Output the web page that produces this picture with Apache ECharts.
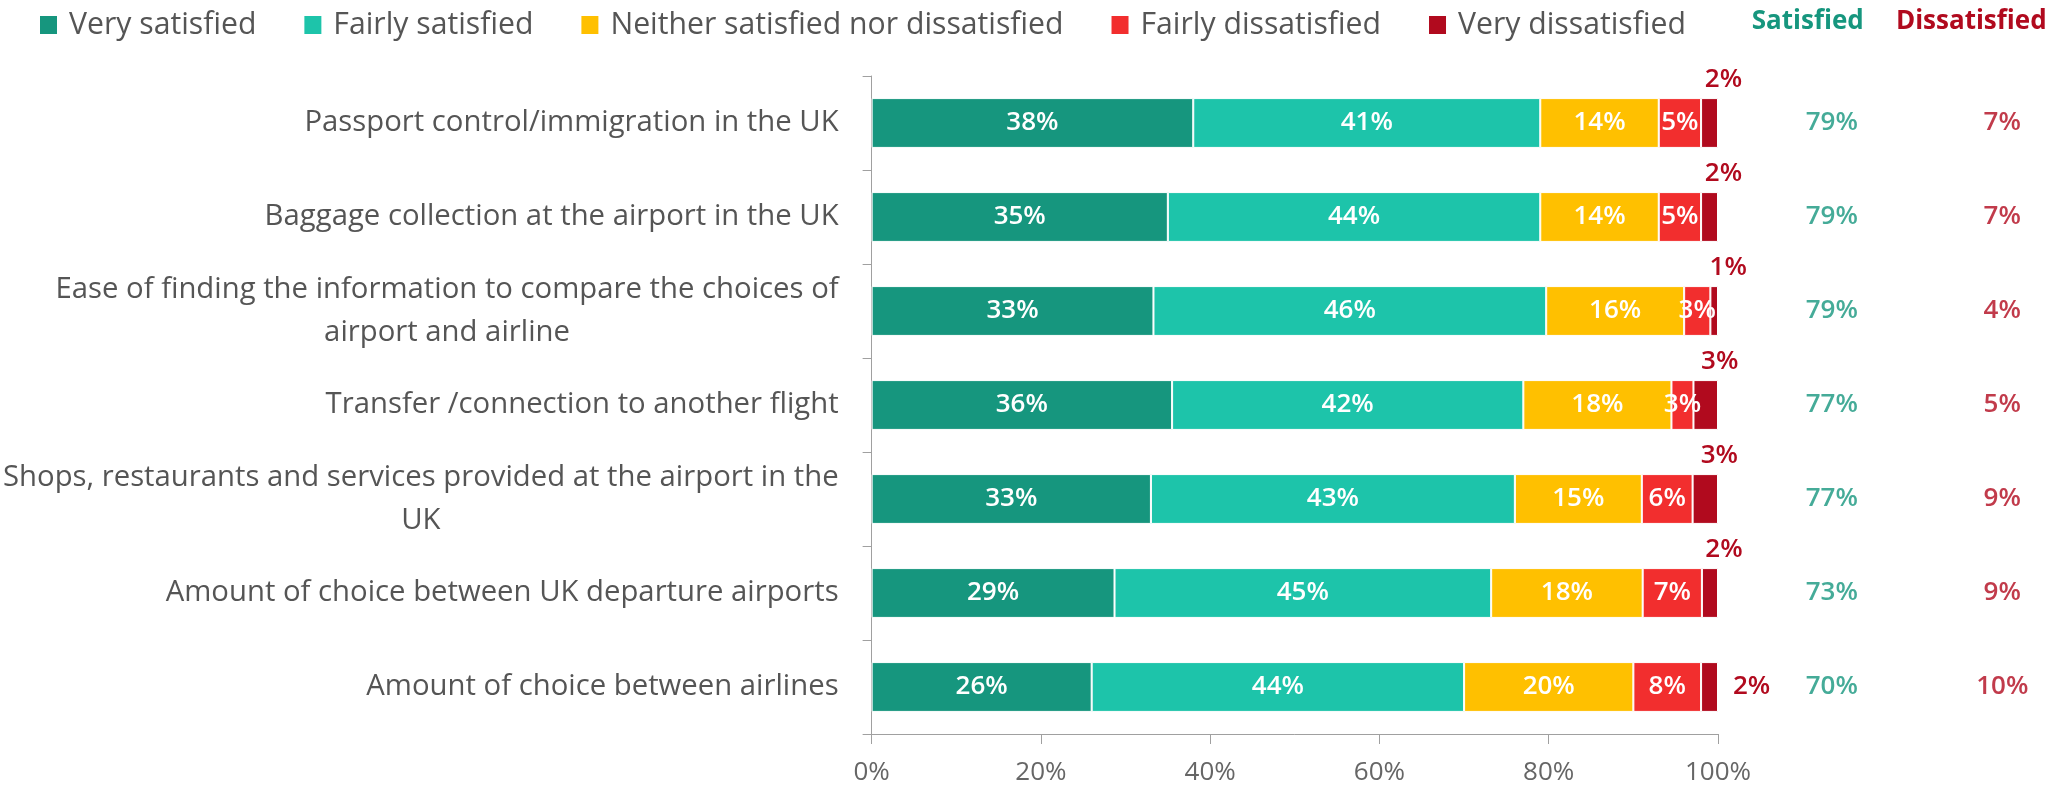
<!DOCTYPE html>
<html><head><meta charset="utf-8">
<script src="https://cdn.jsdelivr.net/npm/echarts@6/dist/echarts.min.js"></script>
<style>html,body{margin:0;padding:0;background:#fff}#c{width:2053px;height:787px}</style>
</head><body><div id="c"></div>
<script>
const categories = [
  'Passport control/immigration in the UK',
  'Baggage collection at the airport in the UK',
  'Ease of finding the information to compare the choices of\nairport and airline',
  'Transfer /connection to another flight',
  'Shops, restaurants and services provided at the airport in the\nUK',
  'Amount of choice between UK departure airports',
  'Amount of choice between airlines'
];
const seriesNames = ['Very satisfied', 'Fairly satisfied', 'Neither satisfied nor dissatisfied', 'Fairly dissatisfied', 'Very dissatisfied'];
const verySatisfied = [38, 35, 33.3, 35.5, 33, 28.7, 26];
const fairlySatisfied = [41, 44, 46.4, 41.5, 43, 44.5, 44];
const neitherSatisfied = [14, 14, 16.3, 17.5, 15, 17.9, 20];
const fairlyDissatisfied = [5, 5, 3.1, 2.6, 6, 7, 8];
const veryDissatisfied = [2, 2, 0.9, 2.9, 3, 1.9, 2];
const summaryHeaders = ['Satisfied', 'Dissatisfied'];
const satisfiedTotal = [79, 79, 79, 77, 77, 73, 70];
const dissatisfiedTotal = [7, 7, 4, 5, 9, 9, 10];
const xTicks = [0, 20, 40, 60, 80, 100];

const colors = ['#16967e', '#1dc4aa', '#ffc000', '#f22e2e', '#b10a1e'];
const FONT = '"Open Sans", sans-serif';
const TEXT = '#555555';
const NUM_WEIGHT = 600;

const chart = echarts.init(document.getElementById('c'), null, {renderer: 'canvas'});
const stacks = [verySatisfied, fairlySatisfied, neitherSatisfied, fairlyDissatisfied, veryDissatisfied];
const lastRow = categories.length - 1;

const barSeries = stacks.map((vals, s) => {
  const isVD = s === 4;
  return {
    name: seriesNames[s],
    type: 'bar',
    stack: 'total',
    barCategoryGap: '47%',
    xAxisIndex: 0, yAxisIndex: 0,
    itemStyle: {color: colors[s], borderColor: '#ffffff', borderWidth: 1},
    emphasis: {disabled: true},
    label: isVD ? {
      show: true, position: 'top', distance: 5, offset: [14, 0],
      color: '#b10a1e', fontFamily: FONT, fontSize: 26, fontWeight: NUM_WEIGHT,
      formatter: p => Math.round(p.value) + '%'
    } : {
      show: true, position: 'inside', color: '#ffffff', fontFamily: FONT, fontSize: 26, fontWeight: NUM_WEIGHT,
      formatter: p => Math.round(p.value) + '%'
    },
    data: vals.map((v, i) => (isVD && i === lastRow)
      ? {value: v, label: {position: 'right', distance: 15, offset: [0, 0]}}
      : v)
  };
});

const summarySeries = [satisfiedTotal, dissatisfiedTotal].map((vals, k) => ({
  type: 'scatter',
  xAxisIndex: 1, yAxisIndex: 1,
  symbolSize: 0,
  silent: true,
  label: {
    show: true, position: 'inside', offset: [k === 0 ? 24 : 31, 0],
    color: k === 0 ? '#16967e' : '#b10a1e', fontFamily: FONT, fontSize: 26, fontWeight: NUM_WEIGHT,
    formatter: p => p.value[2] + '%'
  },
  data: vals.map((v, i) => [k, i, v])
}));

chart.setOption({
  animation: false,
  textStyle: {fontFamily: FONT},
  legend: {
    data: seriesNames,
    left: 33, top: 5,
    icon: 'rect', itemWidth: 19, itemHeight: 20, itemGap: 46,
    selectedMode: false,
    textStyle: {fontFamily: FONT, fontSize: 30.2, color: TEXT, padding: [0, 0, 0, 6]}
  },
  grid: [
    {left: 866, right: 335, top: 76, bottom: 53, containLabel: false},
    {left: 1726, width: 340, top: 76, bottom: 53, containLabel: false}
  ],
  xAxis: [
    {
      type: 'value', gridIndex: 0, min: 0, max: 100, interval: 20,
      axisLine: {show: true, lineStyle: {color: '#a0a0a0', width: 1}},
      axisTick: {show: true, length: 10, lineStyle: {color: '#a0a0a0'}},
      splitLine: {show: false},
      axisLabel: {formatter: v => xTicks.includes(v) ? v + '%' : '', fontFamily: FONT, fontSize: 26, color: '#666666', margin: 26}
    },
    {
      type: 'category', gridIndex: 1, position: 'top', data: summaryHeaders,
      axisLine: {show: false}, axisTick: {show: false}, splitLine: {show: false},
      axisLabel: {
        margin: 41, interval: 0,
        formatter: (v, i) => i === 0 ? '{s|' + v + '}' : '{d|' + v + '}',
        rich: {
          s: {color: '#16967e', fontWeight: 'bold', fontSize: 26, fontFamily: FONT},
          d: {color: '#b10a1e', fontWeight: 'bold', fontSize: 26, fontFamily: FONT}
        }
      }
    }
  ],
  yAxis: [
    {
      type: 'category', gridIndex: 0, data: categories, inverse: true,
      axisLine: {show: true, lineStyle: {color: '#a0a0a0', width: 1}},
      axisTick: {show: true, length: 9, lineStyle: {color: '#a0a0a0'}},
      splitLine: {show: false},
      axisLabel: {
        margin: 33, interval: 0,
        formatter: v => v.split('\n').map(l => '{c|' + l + '}').join('\n'),
        rich: {c: {align: 'center', fontSize: 29.3, lineHeight: 43, color: TEXT, fontFamily: FONT}}
      }
    },
    {
      type: 'category', gridIndex: 1, data: categories, inverse: true, show: false
    }
  ],
  series: barSeries.concat(summarySeries)
});
</script>
</body></html>
